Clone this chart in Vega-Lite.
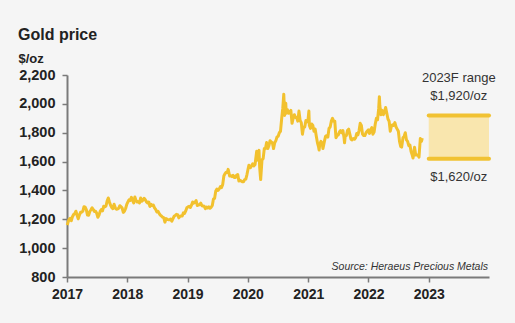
{
  "$schema": "https://vega.github.io/schema/vega-lite/v6.json",
  "autosize": {"type": "none"},
  "width": 422,
  "height": 202,
  "padding": {"left": 67, "top": 75, "right": 26, "bottom": 46},
  "background": "#f5f5f5",
  "title": {
    "text": "Gold price",
    "anchor": "start",
    "frame": "group",
    "dx": -49,
    "offset": 9,
    "font": "Liberation Sans",
    "fontSize": 16,
    "fontWeight": "bold",
    "color": "#222222"
  },
  "config": {
    "view": {"stroke": null},
    "axis": {
      "domainColor": "#7a7a7a",
      "domainWidth": 2,
      "tickColor": "#7a7a7a",
      "tickWidth": 1.5,
      "tickSize": 5,
      "grid": false,
      "labelOverlap": false,
      "labelFont": "Liberation Sans",
      "labelFontWeight": "bold",
      "labelFontSize": 14.5,
      "labelColor": "#222222"
    }
  },
  "datasets": {
    "gold": [
      {"d":"2017-01-03","v":1160},{"d":"2017-01-06","v":1175},{"d":"2017-01-13","v":1198},{"d":"2017-01-20","v":1207},{"d":"2017-01-27","v":1190},
      {"d":"2017-02-03","v":1218},{"d":"2017-02-10","v":1233},{"d":"2017-02-17","v":1239},{"d":"2017-02-24","v":1256},
      {"d":"2017-03-03","v":1228},{"d":"2017-03-10","v":1203},{"d":"2017-03-17","v":1229},{"d":"2017-03-24","v":1248},{"d":"2017-03-31","v":1249},
      {"d":"2017-04-07","v":1256},{"d":"2017-04-14","v":1287},{"d":"2017-04-21","v":1284},{"d":"2017-04-28","v":1267},
      {"d":"2017-05-05","v":1229},{"d":"2017-05-12","v":1228},{"d":"2017-05-19","v":1254},{"d":"2017-05-26","v":1266},
      {"d":"2017-06-02","v":1280},{"d":"2017-06-09","v":1268},{"d":"2017-06-16","v":1254},{"d":"2017-06-23","v":1256},{"d":"2017-06-30","v":1242},
      {"d":"2017-07-07","v":1214},{"d":"2017-07-14","v":1229},{"d":"2017-07-21","v":1255},{"d":"2017-07-28","v":1268},
      {"d":"2017-08-04","v":1258},{"d":"2017-08-11","v":1290},{"d":"2017-08-18","v":1286},{"d":"2017-08-25","v":1292},
      {"d":"2017-09-01","v":1326},{"d":"2017-09-08","v":1348},{"d":"2017-09-15","v":1320},{"d":"2017-09-22","v":1297},{"d":"2017-09-29","v":1282},
      {"d":"2017-10-06","v":1273},{"d":"2017-10-13","v":1304},{"d":"2017-10-20","v":1281},{"d":"2017-10-27","v":1270},
      {"d":"2017-11-03","v":1271},{"d":"2017-11-10","v":1276},{"d":"2017-11-17","v":1294},{"d":"2017-11-24","v":1288},
      {"d":"2017-12-01","v":1278},{"d":"2017-12-08","v":1248},{"d":"2017-12-15","v":1256},{"d":"2017-12-22","v":1275},{"d":"2017-12-29","v":1303},
      {"d":"2018-01-05","v":1320},{"d":"2018-01-12","v":1335},{"d":"2018-01-19","v":1331},{"d":"2018-01-26","v":1352},
      {"d":"2018-02-02","v":1333},{"d":"2018-02-09","v":1314},{"d":"2018-02-16","v":1354},{"d":"2018-02-23","v":1330},
      {"d":"2018-03-02","v":1320},{"d":"2018-03-09","v":1322},{"d":"2018-03-16","v":1314},{"d":"2018-03-23","v":1347},{"d":"2018-03-30","v":1325},
      {"d":"2018-04-06","v":1333},{"d":"2018-04-13","v":1346},{"d":"2018-04-20","v":1336},{"d":"2018-04-27","v":1321},
      {"d":"2018-05-04","v":1313},{"d":"2018-05-11","v":1320},{"d":"2018-05-18","v":1289},{"d":"2018-05-25","v":1303},
      {"d":"2018-06-01","v":1295},{"d":"2018-06-08","v":1298},{"d":"2018-06-15","v":1279},{"d":"2018-06-22","v":1268},{"d":"2018-06-29","v":1251},
      {"d":"2018-07-06","v":1255},{"d":"2018-07-13","v":1241},{"d":"2018-07-20","v":1229},{"d":"2018-07-27","v":1223},
      {"d":"2018-08-03","v":1214},{"d":"2018-08-10","v":1211},{"d":"2018-08-17","v":1180},{"d":"2018-08-24","v":1205},{"d":"2018-08-31","v":1200},
      {"d":"2018-09-07","v":1197},{"d":"2018-09-14","v":1196},{"d":"2018-09-21","v":1201},{"d":"2018-09-28","v":1187},
      {"d":"2018-10-05","v":1204},{"d":"2018-10-12","v":1221},{"d":"2018-10-19","v":1227},{"d":"2018-10-26","v":1234},
      {"d":"2018-11-02","v":1232},{"d":"2018-11-09","v":1210},{"d":"2018-11-16","v":1221},{"d":"2018-11-23","v":1223},{"d":"2018-11-30","v":1222},
      {"d":"2018-12-07","v":1245},{"d":"2018-12-14","v":1240},{"d":"2018-12-21","v":1258},{"d":"2018-12-28","v":1280},
      {"d":"2019-01-04","v":1286},{"d":"2019-01-11","v":1290},{"d":"2019-01-18","v":1282},{"d":"2019-01-25","v":1298},
      {"d":"2019-02-01","v":1320},{"d":"2019-02-08","v":1312},{"d":"2019-02-15","v":1318},{"d":"2019-02-22","v":1330},
      {"d":"2019-03-01","v":1296},{"d":"2019-03-08","v":1298},{"d":"2019-03-15","v":1303},{"d":"2019-03-22","v":1312},{"d":"2019-03-29","v":1294},
      {"d":"2019-04-05","v":1292},{"d":"2019-04-12","v":1290},{"d":"2019-04-19","v":1274},{"d":"2019-04-26","v":1285},
      {"d":"2019-05-03","v":1278},{"d":"2019-05-10","v":1286},{"d":"2019-05-17","v":1277},{"d":"2019-05-24","v":1283},{"d":"2019-05-31","v":1296},
      {"d":"2019-06-07","v":1340},{"d":"2019-06-14","v":1345},{"d":"2019-06-21","v":1396},{"d":"2019-06-28","v":1409},
      {"d":"2019-07-05","v":1400},{"d":"2019-07-12","v":1411},{"d":"2019-07-19","v":1426},{"d":"2019-07-26","v":1420},
      {"d":"2019-08-02","v":1440},{"d":"2019-08-09","v":1500},{"d":"2019-08-16","v":1516},{"d":"2019-08-23","v":1526},{"d":"2019-08-30","v":1525},
      {"d":"2019-09-04","v":1546},{"d":"2019-09-13","v":1500},{"d":"2019-09-20","v":1502},{"d":"2019-09-27","v":1496},
      {"d":"2019-10-04","v":1505},{"d":"2019-10-11","v":1490},{"d":"2019-10-18","v":1490},{"d":"2019-10-25","v":1505},
      {"d":"2019-11-01","v":1510},{"d":"2019-11-08","v":1465},{"d":"2019-11-15","v":1470},{"d":"2019-11-22","v":1465},{"d":"2019-11-29","v":1460},
      {"d":"2019-12-06","v":1460},{"d":"2019-12-13","v":1475},{"d":"2019-12-20","v":1478},{"d":"2019-12-27","v":1510},
      {"d":"2020-01-03","v":1550},{"d":"2020-01-08","v":1575},{"d":"2020-01-17","v":1558},{"d":"2020-01-24","v":1570},{"d":"2020-01-31","v":1585},
      {"d":"2020-02-07","v":1570},{"d":"2020-02-14","v":1580},{"d":"2020-02-24","v":1672},{"d":"2020-02-28","v":1610},
      {"d":"2020-03-06","v":1670},{"d":"2020-03-09","v":1678},{"d":"2020-03-13","v":1560},{"d":"2020-03-19","v":1475},{"d":"2020-03-27","v":1612},
      {"d":"2020-04-03","v":1620},{"d":"2020-04-10","v":1690},{"d":"2020-04-17","v":1690},{"d":"2020-04-24","v":1732},
      {"d":"2020-05-01","v":1690},{"d":"2020-05-08","v":1710},{"d":"2020-05-15","v":1745},{"d":"2020-05-22","v":1735},{"d":"2020-05-29","v":1730},
      {"d":"2020-06-05","v":1690},{"d":"2020-06-12","v":1730},{"d":"2020-06-19","v":1745},{"d":"2020-06-26","v":1770},
      {"d":"2020-07-03","v":1775},{"d":"2020-07-10","v":1800},{"d":"2020-07-17","v":1810},{"d":"2020-07-24","v":1895},{"d":"2020-07-31","v":1970},
      {"d":"2020-08-06","v":2067},{"d":"2020-08-11","v":1920},{"d":"2020-08-18","v":2005},{"d":"2020-08-21","v":1935},{"d":"2020-08-28","v":1960},
      {"d":"2020-09-04","v":1935},{"d":"2020-09-11","v":1945},{"d":"2020-09-18","v":1955},{"d":"2020-09-25","v":1865},
      {"d":"2020-10-02","v":1900},{"d":"2020-10-09","v":1925},{"d":"2020-10-16","v":1905},{"d":"2020-10-23","v":1905},{"d":"2020-10-30","v":1880},
      {"d":"2020-11-06","v":1950},{"d":"2020-11-13","v":1885},{"d":"2020-11-20","v":1870},{"d":"2020-11-27","v":1790},
      {"d":"2020-12-04","v":1840},{"d":"2020-12-11","v":1840},{"d":"2020-12-18","v":1885},{"d":"2020-12-25","v":1875},{"d":"2020-12-31","v":1890},
      {"d":"2021-01-05","v":1950},{"d":"2021-01-08","v":1850},{"d":"2021-01-15","v":1830},{"d":"2021-01-22","v":1860},{"d":"2021-01-29","v":1850},
      {"d":"2021-02-05","v":1810},{"d":"2021-02-12","v":1825},{"d":"2021-02-19","v":1775},{"d":"2021-02-26","v":1730},
      {"d":"2021-03-05","v":1700},{"d":"2021-03-08","v":1680},{"d":"2021-03-12","v":1720},{"d":"2021-03-19","v":1740},{"d":"2021-03-26","v":1730},{"d":"2021-03-31","v":1690},
      {"d":"2021-04-09","v":1740},{"d":"2021-04-16","v":1775},{"d":"2021-04-23","v":1780},{"d":"2021-04-30","v":1770},
      {"d":"2021-05-07","v":1830},{"d":"2021-05-14","v":1840},{"d":"2021-05-21","v":1880},{"d":"2021-05-28","v":1900},
      {"d":"2021-06-04","v":1880},{"d":"2021-06-11","v":1880},{"d":"2021-06-18","v":1765},{"d":"2021-06-25","v":1780},
      {"d":"2021-07-02","v":1785},{"d":"2021-07-09","v":1805},{"d":"2021-07-16","v":1815},{"d":"2021-07-23","v":1800},{"d":"2021-07-30","v":1815},
      {"d":"2021-08-06","v":1765},{"d":"2021-08-09","v":1730},{"d":"2021-08-13","v":1775},{"d":"2021-08-20","v":1780},{"d":"2021-08-27","v":1815},
      {"d":"2021-09-03","v":1825},{"d":"2021-09-10","v":1790},{"d":"2021-09-17","v":1755},{"d":"2021-09-24","v":1750},
      {"d":"2021-10-01","v":1760},{"d":"2021-10-08","v":1755},{"d":"2021-10-15","v":1765},{"d":"2021-10-22","v":1795},{"d":"2021-10-29","v":1785},
      {"d":"2021-11-05","v":1815},{"d":"2021-11-12","v":1865},{"d":"2021-11-19","v":1850},{"d":"2021-11-26","v":1790},
      {"d":"2021-12-03","v":1780},{"d":"2021-12-10","v":1780},{"d":"2021-12-17","v":1800},{"d":"2021-12-24","v":1810},{"d":"2021-12-31","v":1820},
      {"d":"2022-01-07","v":1795},{"d":"2022-01-14","v":1820},{"d":"2022-01-21","v":1835},{"d":"2022-01-28","v":1790},
      {"d":"2022-02-04","v":1805},{"d":"2022-02-11","v":1860},{"d":"2022-02-18","v":1900},{"d":"2022-02-25","v":1890},
      {"d":"2022-03-04","v":1970},{"d":"2022-03-08","v":2050},{"d":"2022-03-11","v":1985},{"d":"2022-03-18","v":1925},{"d":"2022-03-25","v":1955},
      {"d":"2022-04-01","v":1925},{"d":"2022-04-08","v":1945},{"d":"2022-04-15","v":1975},{"d":"2022-04-22","v":1935},{"d":"2022-04-29","v":1895},
      {"d":"2022-05-06","v":1880},{"d":"2022-05-13","v":1810},{"d":"2022-05-20","v":1845},{"d":"2022-05-27","v":1855},
      {"d":"2022-06-03","v":1850},{"d":"2022-06-10","v":1870},{"d":"2022-06-17","v":1840},{"d":"2022-06-24","v":1825},
      {"d":"2022-07-01","v":1810},{"d":"2022-07-08","v":1740},{"d":"2022-07-15","v":1705},{"d":"2022-07-21","v":1700},{"d":"2022-07-29","v":1765},
      {"d":"2022-08-05","v":1775},{"d":"2022-08-12","v":1800},{"d":"2022-08-19","v":1750},{"d":"2022-08-26","v":1740},
      {"d":"2022-09-02","v":1710},{"d":"2022-09-09","v":1715},{"d":"2022-09-16","v":1670},{"d":"2022-09-23","v":1645},{"d":"2022-09-28","v":1625},
      {"d":"2022-10-07","v":1700},{"d":"2022-10-14","v":1645},{"d":"2022-10-21","v":1645},{"d":"2022-10-28","v":1645},
      {"d":"2022-11-03","v":1630},{"d":"2022-11-11","v":1760},{"d":"2022-11-18","v":1740},{"d":"2022-11-23","v":1762}
    ]
  },
  "encoding": {
    "x": {
      "field": "d",
      "type": "temporal",
      "scale": {"type": "utc", "domain": ["2017-01-01", "2024-01-01"]},
      "axis": {
        "title": null,
        "format": "%Y",
        "values": ["2017-01-01", "2018-01-01", "2019-01-01", "2020-01-01", "2021-01-01", "2022-01-01", "2023-01-01"],
        "labelFlush": false,
        "labelOverlap": false,
        "labelPadding": 5,
        "labelFontSize": 14
      }
    },
    "y": {
      "field": "v",
      "type": "quantitative",
      "scale": {"domain": [800, 2200], "nice": false, "zero": false},
      "axis": {
        "values": [800, 1000, 1200, 1400, 1600, 1800, 2000, 2200],
        "format": ",.0f",
        "labelOverlap": false,
        "labelPadding": 7,
        "title": "$/oz",
        "titleAngle": 0,
        "titleX": -49,
        "titleY": -13,
        "titleAlign": "left",
        "titleBaseline": "alphabetic",
        "titleFont": "Liberation Sans",
        "titleFontSize": 13,
        "titleFontWeight": "bold",
        "titleColor": "#222222"
      }
    }
  },
  "layer": [
    {
      "data": {"values": [{"d": "2023-01-01", "d2": "2024-01-01", "v": 1620, "v2": 1920}]},
      "mark": {"type": "rect", "color": "#f9e6ae"},
      "encoding": {
        "x2": {"field": "d2"},
        "y2": {"field": "v2"}
      }
    },
    {
      "data": {"values": [{"d": "2023-01-01", "d2": "2024-01-01", "v": 1920}, {"d": "2023-01-01", "d2": "2024-01-01", "v": 1620}]},
      "mark": {"type": "rule", "color": "#f1c232", "strokeWidth": 4, "strokeCap": "round"},
      "encoding": {
        "x2": {"field": "d2"}
      }
    },
    {
      "data": {"name": "gold"},
      "mark": {"type": "line", "color": "#f2c12e", "strokeWidth": 3, "strokeJoin": "round"},
      "encoding": {}
    },
    {
      "data": {"values": [
        {"d": "2023-07-02", "v": 2150, "t": "2023F range"},
        {"d": "2023-07-02", "v": 2030, "t": "$1,920/oz"},
        {"d": "2023-07-02", "v": 1462, "t": "$1,620/oz"}
      ]},
      "mark": {"type": "text", "font": "Liberation Sans", "fontSize": 13, "color": "#333333", "align": "center", "baseline": "alphabetic"},
      "encoding": {
        "text": {"field": "t"}
      }
    },
    {
      "data": {"values": [{"d": "2024-01-01", "v": 848, "t": "Source: Heraeus Precious Metals"}]},
      "mark": {"type": "text", "font": "Liberation Sans", "fontSize": 10.5, "fontStyle": "italic", "color": "#333333", "align": "right", "baseline": "alphabetic", "dx": -1},
      "encoding": {
        "text": {"field": "t"}
      }
    }
  ]
}
